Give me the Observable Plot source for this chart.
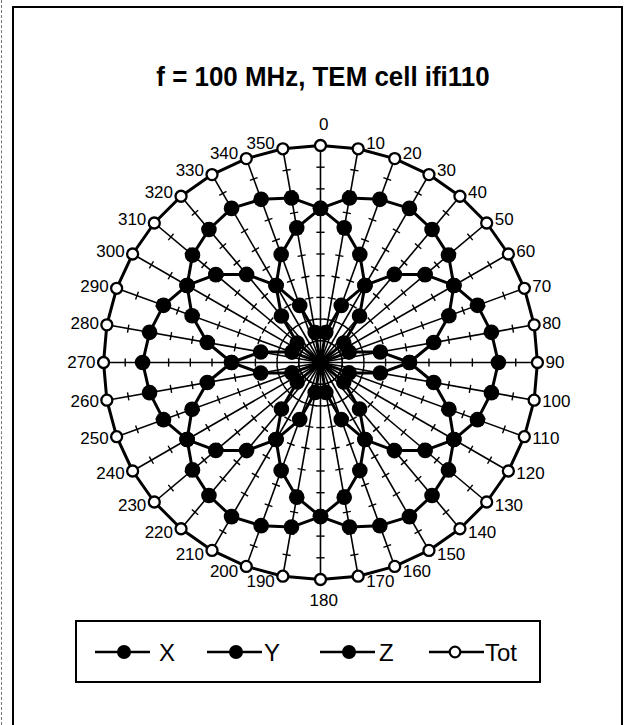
<!DOCTYPE html>
<html>
<head>
<meta charset="utf-8">
<script src="https://cdn.jsdelivr.net/npm/d3@7"></script>
<script src="https://cdn.jsdelivr.net/npm/@observablehq/plot@0.6"></script>
<style>
  html, body { margin: 0; padding: 0; background: #fff; }
  #page { position: relative; width: 630px; height: 725px; overflow: hidden; font-family: "Liberation Sans", Arial, sans-serif; }
  #frame { position: absolute; left: 12px; top: 6px; width: 611px; height: 760px; border: 2px solid #000; box-sizing: border-box; }
  #edge { position: absolute; left: 1px; top: 0; width: 0; height: 725px; border-left: 1px dashed #777; }
  #title { position: absolute; left: 0; top: 62px; width: 646px; text-align: center; font-size: 28px; font-weight: bold; line-height: 30px; transform: scaleX(0.925); transform-origin: 323px 0; white-space: nowrap; }
  #chart { position: absolute; left: 0; top: 112px; }
  #legend { position: absolute; left: 75px; top: 620px; width: 466px; height: 63px; border: 2px solid #000; box-sizing: border-box; }
</style>
</head>
<body>
<div id="page">
  <div id="edge"></div>
  <div id="frame"></div>
  <div id="title"></div>
  <div id="chart"></div>
  <div id="legend"></div>
</div>
<script>
const titleText = "f = 100 MHz, TEM cell ifi110";
const angles = [0,10,20,30,40,50,60,70,80,90,100,110,120,130,140,150,160,170,180,190,200,210,220,230,240,250,260,270,280,290,300,310,320,330,340,350];
const angleLabels = angles.map(a => String(a));
const seriesNames = ["X", "Y", "Z", "Tot"];
const xVals = [0.0,1.4,2.8,4.1,5.3,6.3,7.1,7.7,8.0,8.2,8.0,7.7,7.1,6.3,5.3,4.1,2.8,1.4,0.0,1.4,2.8,4.1,5.3,6.3,7.1,7.7,8.0,8.2,8.0,7.7,7.1,6.3,5.3,4.1,2.8,1.4];
const yVals = [7.1,7.7,8.0,8.2,8.0,7.7,7.1,6.3,5.3,4.1,2.8,1.4,0.0,1.4,2.8,4.1,5.3,6.3,7.1,7.7,8.0,8.2,8.0,7.7,7.1,6.3,5.3,4.1,2.8,1.4,0.0,1.4,2.8,4.1,5.3,6.3];
const zVals = [7.1,6.3,5.3,4.1,2.8,1.4,0.0,1.4,2.8,4.1,5.3,6.3,7.1,7.7,8.0,8.2,8.0,7.7,7.1,6.3,5.3,4.1,2.8,1.4,0.0,1.4,2.8,4.1,5.3,6.3,7.1,7.7,8.0,8.2,8.0,7.7];
const totVals = [10.0,10.0,10.0,10.0,10.0,10.0,10.0,10.0,10.0,10.0,10.0,10.0,10.0,10.0,10.0,10.0,10.0,10.0,10.0,10.0,10.0,10.0,10.0,10.0,10.0,10.0,10.0,10.0,10.0,10.0,10.0,10.0,10.0,10.0,10.0,10.0];
const radialTicks = [1,2,3,4,5,6,7,8,9];
const rMax = 10;

document.getElementById("title").textContent = titleText;

const rad = Math.PI / 180;
const px = d => d.r * Math.sin(d.angle * rad);
const py = d => d.r * Math.cos(d.angle * rad);

const valueSets = [xVals, yVals, zVals, totVals];
const rows = seriesNames.flatMap((s, si) => angles.map((a, i) => ({series: s, angle: a, r: valueSets[si][i]})));
const compRows = rows.filter(d => d.series !== "Tot");
const totRows = rows.filter(d => d.series === "Tot");

const tickRows = angles.flatMap(a => radialTicks.map(k => ({angle: a, k})));
const h = 0.19;
const labelRows = angles.map((a, i) => ({angle: a, label: angleLabels[i]}));
const rightLabels = labelRows.filter(d => d.angle > 0 && d.angle < 180);
const leftLabels = labelRows.filter(d => d.angle > 180);
const midLabels = labelRows.filter(d => d.angle === 0 || d.angle === 180);

const chart = Plot.plot({
  width: 630,
  height: 500,
  margin: 0,
  x: {domain: [-14.75, 14.29], axis: null},
  y: {domain: [-11.52, 11.52], axis: null},
  style: {background: "transparent", overflow: "visible", fontFamily: "'Liberation Sans', Arial, sans-serif"},
  marks: [
    Plot.link(angles, {
      x1: () => 0, y1: () => 0,
      x2: a => rMax * Math.sin(a * rad), y2: a => rMax * Math.cos(a * rad),
      stroke: "black", strokeWidth: 1.6
    }),
    Plot.link(tickRows, {
      x1: d => d.k * Math.sin(d.angle * rad) + h * Math.cos(d.angle * rad),
      y1: d => d.k * Math.cos(d.angle * rad) - h * Math.sin(d.angle * rad),
      x2: d => d.k * Math.sin(d.angle * rad) - h * Math.cos(d.angle * rad),
      y2: d => d.k * Math.cos(d.angle * rad) + h * Math.sin(d.angle * rad),
      stroke: "black", strokeWidth: 1.4
    }),
    Plot.line(rows, {x: px, y: py, z: "series", curve: "linear-closed", stroke: "black", strokeWidth: 3}),
    Plot.dot(compRows, {x: px, y: py, r: 7.8, fill: "black", stroke: "none"}),
    Plot.dot(totRows, {x: px, y: py, r: 5.5, fill: "white", stroke: "black", strokeWidth: 2.3}),
    Plot.text(rightLabels, {
      x: d => rMax * Math.sin(d.angle * rad), y: d => (rMax + 0.23) * Math.cos(d.angle * rad),
      text: "label", dx: 8, textAnchor: "start", fontSize: 17, fill: "black"
    }),
    Plot.text(leftLabels, {
      x: d => rMax * Math.sin(d.angle * rad), y: d => (rMax + 0.23) * Math.cos(d.angle * rad),
      text: "label", dx: -8, textAnchor: "end", fontSize: 17, fill: "black"
    }),
    Plot.text(midLabels, {
      x: d => 0.15, y: d => (rMax + 0.95) * Math.cos(d.angle * rad),
      text: "label", textAnchor: "middle", fontSize: 17, fill: "black"
    })
  ]
});
document.getElementById("chart").appendChild(chart);

// Legend
const legendItems = [
  {name: seriesNames[0], x0: 18, filled: true, tx: 82},
  {name: seriesNames[1], x0: 130, filled: true, tx: 187},
  {name: seriesNames[2], x0: 243, filled: true, tx: 302},
  {name: seriesNames[3], x0: 352, filled: false, tx: 408}
];
const lsvg = d3.select("#legend").append("svg").attr("width", 462).attr("height", 59)
  .style("position", "absolute").style("left", "0px").style("top", "0px");
const g = lsvg.selectAll("g").data(legendItems).join("g");
g.append("line").attr("x1", d => d.x0).attr("x2", d => d.x0 + 55).attr("y1", 30).attr("y2", 30)
  .attr("stroke", "black").attr("stroke-width", 2.5);
g.append("circle").attr("cx", d => d.x0 + (d.filled ? 29 : 26)).attr("cy", 30).attr("r", d => d.filled ? 7 : 5.3)
  .attr("fill", d => d.filled ? "black" : "white").attr("stroke", "black").attr("stroke-width", d => d.filled ? 0 : 2.2);
g.append("text").attr("x", d => d.tx).attr("y", 30).attr("dy", "0.36em").text(d => d.name)
  .attr("font-size", 24).attr("font-family", "'Liberation Sans', Arial, sans-serif").attr("fill", "black");
</script>
</body>
</html>
